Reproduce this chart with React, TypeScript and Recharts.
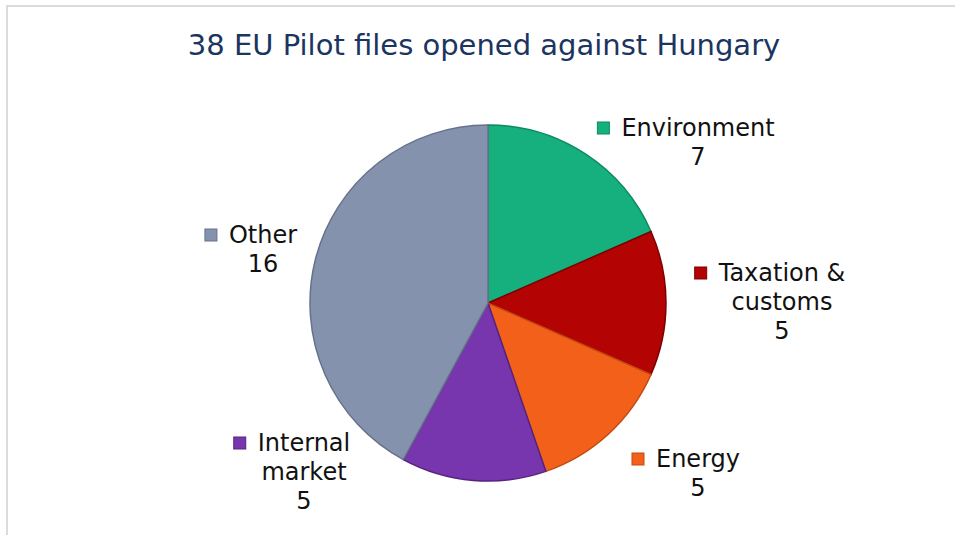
import { PieChart, Pie, Cell } from "recharts";

const categories = ["Environment", "Taxation & customs", "Energy", "Internal market", "Other"];
const files = [7, 5, 5, 5, 16];
const colors = ["#16AF7E", "#B30303", "#F2601A", "#7836AE", "#8592AD"];
const edges = ["#0C8A61", "#7E0000", "#C44A0E", "#56227F", "#66728C"];

const title = "38 EU Pilot files opened against Hungary";

// where each label's text block sits, relative to the pie centre
const labelSpots = [
  { dx: 210, dy: -175 },
  { dx: 294, dy: -30 },
  { dx: 210, dy: 156 },
  { dx: -184, dy: 140 },
  { dx: -225, dy: -68 },
];

const data = categories.map((name, i) => ({ name, value: files[i] }));

const FONT = "'DejaVu Sans', Verdana, sans-serif";
const LABEL_SIZE = 24;
const LINE_H = 29;

let ctx: CanvasRenderingContext2D | null = null;
function textWidth(s: string) {
  if (!ctx) ctx = document.createElement("canvas").getContext("2d");
  if (!ctx) return s.length * LABEL_SIZE * 0.6;
  ctx.font = `${LABEL_SIZE}px 'DejaVu Sans'`;
  return ctx.measureText(s).width;
}

function wrap(name: string, max = 140) {
  const words = name.split(" ");
  const lines: string[] = [];
  let cur = "";
  for (const w of words) {
    const next = cur ? cur + " " + w : w;
    if (cur && textWidth(next) > max) {
      lines.push(cur);
      cur = w;
    } else cur = next;
  }
  if (cur) lines.push(cur);
  return lines;
}

const renderLabel = (p: any) => {
  const spot = labelSpots[p.index];
  const x = p.cx + spot.dx;
  const y = p.cy + spot.dy;
  const lines = [...wrap(p.name), String(p.value)];
  const w0 = textWidth(lines[0]);
  const sx = x - w0 / 2 - 24;
  return (
    <g key={`lbl-${p.index}`}>
      <rect x={sx} y={y - 6} width={12} height={12} fill={colors[p.index]} stroke={edges[p.index]} strokeWidth={1} />
      {lines.map((ln, k) => (
        <text
          key={k}
          x={x}
          y={y + k * LINE_H}
          textAnchor="middle"
          dominantBaseline="central"
          fontFamily={FONT}
          fontSize={LABEL_SIZE}
          fill="#111"
        >
          {ln}
        </text>
      ))}
    </g>
  );
};

export default function App() {
  return (
    <div style={{ position: "absolute", left: 0, top: 0, width: 955, height: 535, background: "#fff" }}>
      <div
        style={{
          position: "absolute",
          left: 6,
          top: 5,
          right: 0,
          bottom: 0,
          borderLeft: "2px solid #dcdcdc",
          borderTop: "2px solid #dcdcdc",
        }}
      />
      <PieChart
        width={955}
        height={535}
        margin={{ top: 0, right: 0, bottom: 0, left: 0 }}
        style={{ position: "absolute", left: 0, top: 0 }}
      >
        <text x={484} y={55} textAnchor="middle" fontFamily={FONT} fontSize={29} fill="#1B3560">
          {title}
        </text>
        <Pie
          data={data}
          dataKey="value"
          nameKey="name"
          cx={488}
          cy={303}
          outerRadius={178}
          startAngle={90}
          endAngle={-270}
          label={renderLabel}
          labelLine={false}
          isAnimationActive={false}
        >
          {data.map((d, i) => (
            <Cell key={d.name} fill={colors[i]} stroke={edges[i]} strokeWidth={1.5} />
          ))}
        </Pie>
      </PieChart>
    </div>
  );
}
